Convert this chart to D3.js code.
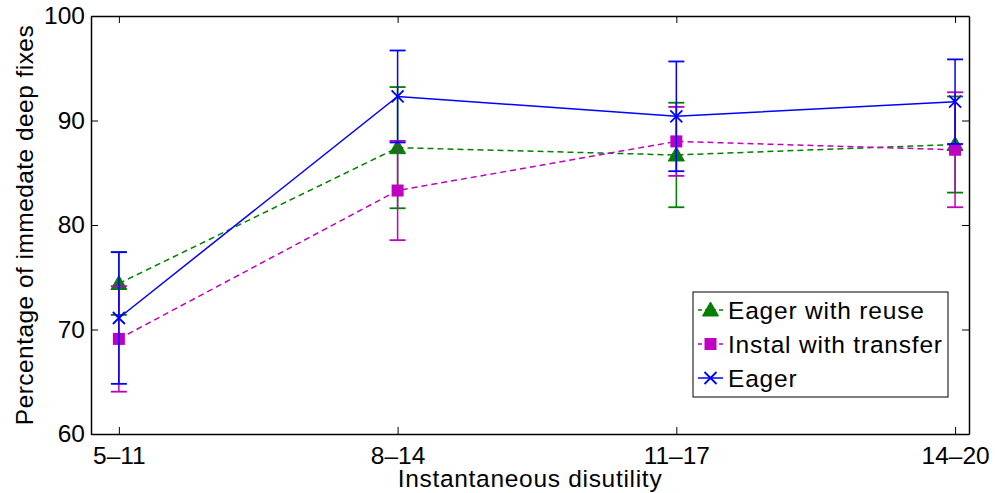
<!DOCTYPE html>
<html><head><meta charset="utf-8">
<script src="https://cdn.jsdelivr.net/npm/d3@7"></script>
<style>
body{margin:0;background:#fff;}
text{font-family:"Liberation Sans",Arial,Helvetica,sans-serif;fill:#000;}
</style></head>
<body>
<svg id="chart" width="995" height="493"></svg>
<script>
const categories = ["5\u201311","8\u201314","11\u201317","14\u201320"];
const yTicks = [60,70,80,90,100];
const seriesNames = ["Eager with reuse","Instal with transfer","Eager"];
const reuseMean = [74.4, 87.4, 86.7, 87.7];
const reuseErr  = [3.0, 5.8, 5.0, 4.6];
const transferMean = [69.1, 83.3, 88.0, 87.2];
const transferErr  = [5.05, 4.75, 3.3, 5.5];
const eagerMean = [71.1, 92.3, 90.4, 91.8];
const eagerErr  = [6.3, 4.4, 5.25, 4.05];

const svg = d3.select("#chart");
const L=91, R=969, T=16, B=434;
const x = d3.scaleLinear().domain([0.9,4.05]).range([L,R]);
const y = d3.scaleLinear().domain([60,100]).range([B,T]);

const series = [
  {name:seriesNames[0], mean:reuseMean, err:reuseErr, color:"#008000", dash:"6,4", marker:"tri"},
  {name:seriesNames[1], mean:transferMean, err:transferErr, color:"#c000c0", dash:"6,4", marker:"sq"},
  {name:seriesNames[2], mean:eagerMean, err:eagerErr, color:"#0000ff", dash:null, marker:"x"}
];

const g = svg.append("g");
const fs = "24.5px";
const xb = d3.axisBottom(x).tickValues([1,2,3,4]).tickFormat(d=>categories[d-1]).tickSizeInner(-7).tickSizeOuter(0).tickPadding(13);
const xt = d3.axisTop(x).tickValues([1,2,3,4]).tickFormat("").tickSizeInner(-7).tickSizeOuter(0);
const yl = d3.axisLeft(y).tickValues(yTicks).tickSizeInner(-7).tickSizeOuter(0).tickPadding(6);
const yr = d3.axisRight(y).tickValues(yTicks).tickFormat("").tickSizeInner(-7).tickSizeOuter(0);
function style(sel){
  sel.select(".domain").attr("stroke","#000").attr("stroke-width",1.5);
  sel.selectAll(".tick line").attr("stroke","#000").attr("stroke-width",1);
  sel.selectAll(".tick text").style("font-size",fs).attr("fill","#000");
}
g.append("g").attr("transform",`translate(0,${B})`).call(xb).call(style);
g.append("g").attr("transform",`translate(0,${T})`).call(xt).call(style);
g.append("g").attr("transform",`translate(${L},0)`).call(yl).call(style);
g.append("g").attr("transform",`translate(${R},0)`).call(yr).call(style);

svg.append("text").attr("x",530).attr("y",487).attr("text-anchor","middle").style("font-size","24.5px").style("letter-spacing","0.7px").text("Instantaneous disutility");
svg.append("text").attr("transform",`translate(33,${(T+B)/2+0}) rotate(-90)`).attr("text-anchor","middle").style("font-size","24.5px").style("letter-spacing","0.45px").text("Percentage of immedate deep fixes");

function drawMarker(sel, type, cx, cy, color){
  if(type==="tri"){
    const s=8;
    sel.append("path").attr("d",`M${cx},${cy-s} L${cx+s},${cy+s*0.75} L${cx-s},${cy+s*0.75} Z`).attr("fill",color).attr("stroke",color).attr("stroke-width",1);
  } else if(type==="sq"){
    const s=6;
    sel.append("rect").attr("x",cx-s).attr("y",cy-s).attr("width",2*s).attr("height",2*s).attr("fill",color);
  } else {
    const s=6;
    sel.append("path").attr("d",`M${cx-s},${cy-s} L${cx+s},${cy+s} M${cx-s},${cy+s} L${cx+s},${cy-s}`).attr("stroke",color).attr("stroke-width",1.8).attr("fill","none");
  }
}

const cap=8;
series.forEach(s=>{
  const gs = svg.append("g");
  s.mean.forEach((m,i)=>{
    const cx=x(i+1), lo=y(m-s.err[i]), hi=y(m+s.err[i]);
    gs.append("line").attr("x1",cx).attr("x2",cx).attr("y1",lo).attr("y2",hi).attr("stroke",s.color).attr("stroke-width",1.5);
    gs.append("line").attr("x1",cx-cap).attr("x2",cx+cap).attr("y1",lo).attr("y2",lo).attr("stroke",s.color).attr("stroke-width",1.8);
    gs.append("line").attr("x1",cx-cap).attr("x2",cx+cap).attr("y1",hi).attr("y2",hi).attr("stroke",s.color).attr("stroke-width",1.8);
  });
  const line = d3.line().x((d,i)=>x(i+1)).y(d=>y(d));
  gs.append("path").attr("d",line(s.mean)).attr("fill","none").attr("stroke",s.color).attr("stroke-width",1.5).attr("stroke-dasharray",s.dash);
  s.mean.forEach((m,i)=>drawMarker(gs,s.marker,x(i+1),y(m),s.color));
});

const lg = svg.append("g");
lg.append("rect").attr("x",693).attr("y",292).attr("width",255).attr("height",105).attr("fill","#fff").attr("stroke","#000").attr("stroke-width",1);
const rowY=[310,344,378];
series.forEach((s,i)=>{
  lg.append("line").attr("x1",698).attr("x2",723).attr("y1",rowY[i]).attr("y2",rowY[i]).attr("stroke",s.color).attr("stroke-width",1.5).attr("stroke-dasharray",s.dash?"4,3":null);
  drawMarker(lg,s.marker,710.5,rowY[i],s.color);
  lg.append("text").attr("x",728).attr("y",rowY[i]).attr("dy","0.36em").style("font-size","24.5px").style("letter-spacing","0.8px").text(s.name);
});
</script>
</body></html>
